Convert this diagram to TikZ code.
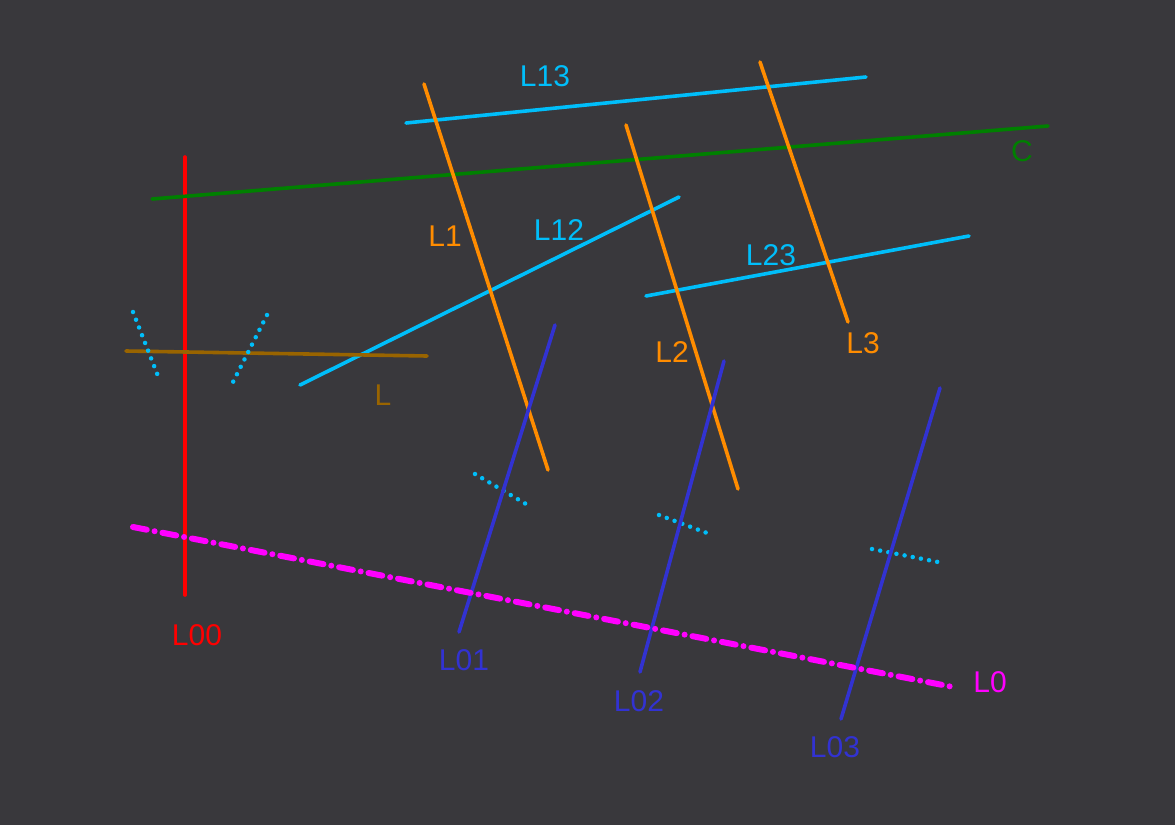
\documentclass[tikz,border=0pt]{standalone}
\usepackage{fontspec}
\setmainfont{Liberation Sans}
\definecolor{board}{RGB}{57,56,60}
\definecolor{skyline}{RGB}{0,190,250}
\definecolor{orangeline}{RGB}{255,140,0}
\definecolor{greenline}{RGB}{0,128,0}
\definecolor{blueline}{RGB}{50,50,210}
\definecolor{brownline}{RGB}{153,100,0}
\definecolor{magline}{RGB}{255,0,255}
\definecolor{redline}{RGB}{255,0,0}
\begin{document}
\begin{tikzpicture}[x=1pt, y=-1pt,
    ln/.style={line width=3.6pt, line cap=round},
    dotline/.style={skyline, line width=4.5pt, line cap=round, dash pattern=on 0pt off 8.3pt},
    lbl/.style={font=\fontsize{30}{30}\selectfont, inner sep=0pt}]
    % board
    \fill[board] (0,0) rectangle (1175,825);
    \useasboundingbox (0,0) rectangle (1175,825);

    % red and green
    \draw[ln, redline] (185,157) -- (185,595);
    \draw[ln, greenline] (152,199) -- (1048,126);
    \node[lbl, redline] (l00) at (197,635) {L00};
    \node[lbl, greenline] (c) at (1022,151) {C};

    % cyan lines
    \draw[ln, skyline] (406,123) -- (866,77);
    \draw[ln, skyline] (300,385) -- (679,197);
    \draw[ln, skyline] (646,296) -- (969,236);
    \node[lbl, skyline] (l13) at (545,76) {L13};
    \node[lbl, skyline] (l12) at (559,230) {L12};
    \node[lbl, skyline] (l23) at (771,255) {L23};

    % orange lines
    \draw[ln, orangeline] (424,84) -- (548,470);
    \draw[ln, orangeline] (626,125) -- (738,489);
    \draw[ln, orangeline] (760,62) -- (848,322);
    \node[lbl, orangeline] (l1) at (445,236) {L1};
    \node[lbl, orangeline] (l2) at (672,352) {L2};
    \node[lbl, orangeline] (l3) at (863,343) {L3};

    % brown line
    \draw[ln, brownline] (126,351) -- (427,356);
    \node[lbl, brownline] (l) at (383,395) {L};

    % dotted marks
    \draw[dotline] (133,312) -- (158,376);
    \draw[dotline] (267,315) -- (232,384);
    \draw[dotline] (475,474) -- (526,504);
    \draw[dotline] (659,515) -- (707,533);
    \draw[dotline] (872,549) -- (938,562);

    % blue lines
    \draw[ln, blueline] (555,325) -- (459,632);
    \draw[ln, blueline] (724,361) -- (640,672);
    \draw[ln, blueline] (940,388) -- (841,719);
    \node[lbl, blueline] (l01) at (464,660) {L01};
    \node[lbl, blueline] (l02) at (639,701) {L02};
    \node[lbl, blueline] (l03) at (835,747) {L03};

    % magenta line
    \draw[magline, line width=6pt, line cap=round, dash pattern=on 14pt off 8pt on 0pt off 8pt] (133,527) -- (953,687);
    \node[lbl, magline] (l0) at (990,682) {L0};
\end{tikzpicture}
\end{document}
